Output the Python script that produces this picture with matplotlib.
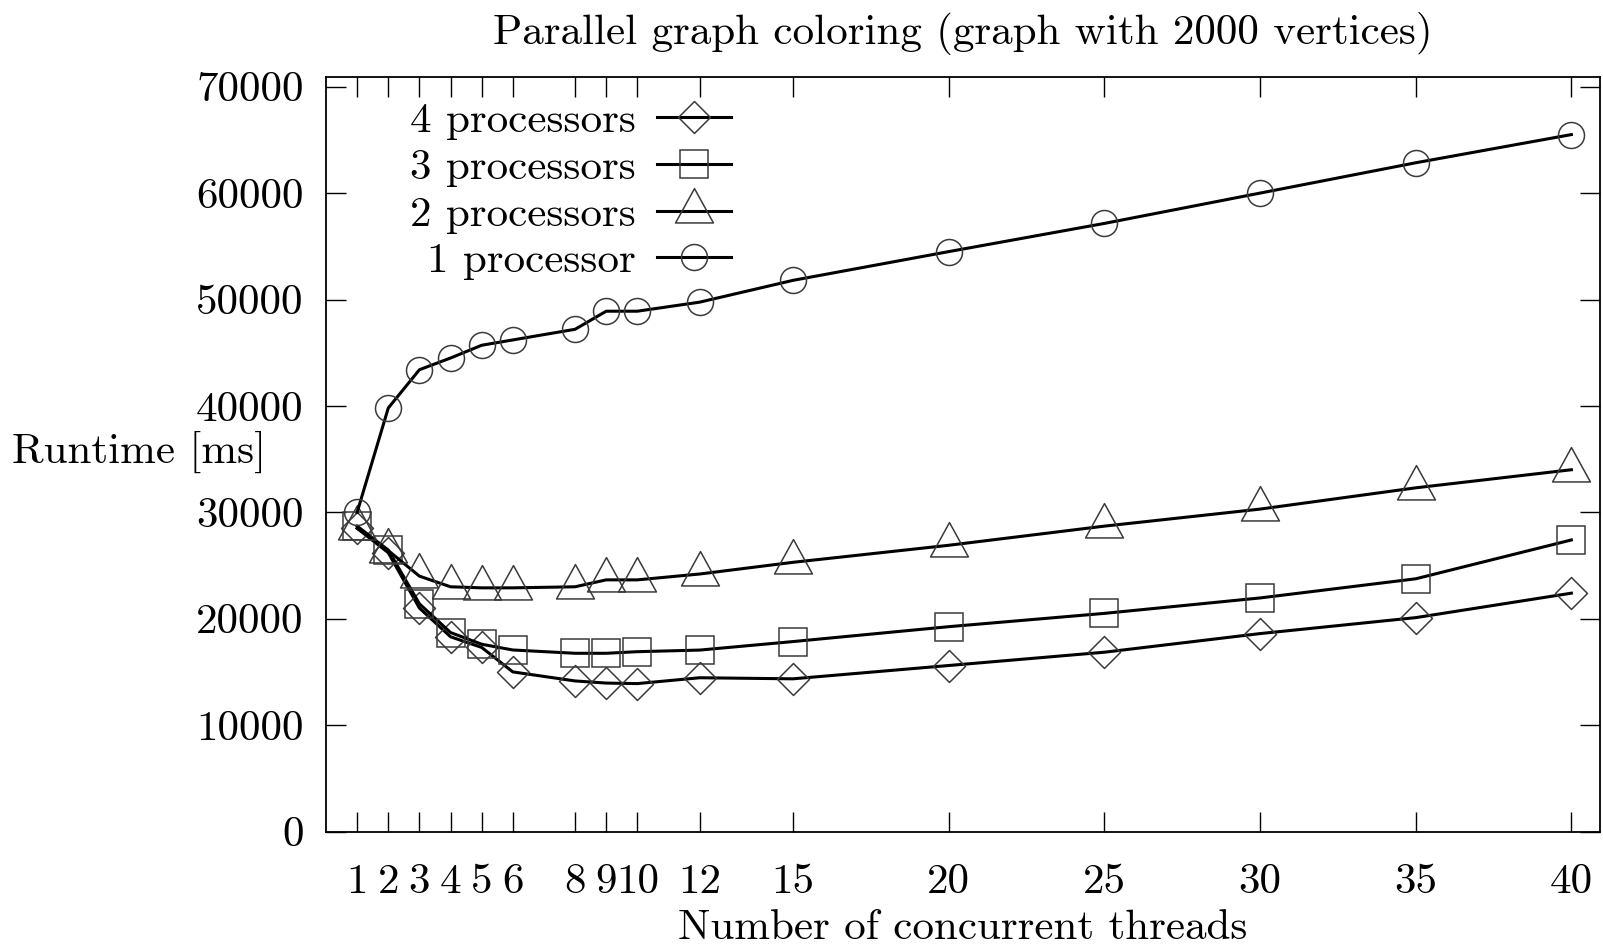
import matplotlib
matplotlib.use("Agg")
import matplotlib.pyplot as plt
from matplotlib.path import Path

# data
threads = [1, 2, 3, 4, 5, 6, 8, 9, 10, 12, 15, 20, 25, 30, 35, 40]
xtick_labels = ["1", "2", "3", "4", "5", "6", "8", "9", "10", "12",
                "15", "20", "25", "30", "35", "40"]
yticks = [0, 10000, 20000, 30000, 40000, 50000, 60000, 70000]

# runtime [ms]
proc4 = [28500, 26200, 21000, 18300, 17300, 15000, 14150, 13950, 13900, 14450,
         14350, 15600, 16850, 18600, 20100, 22400]
proc3 = [28700, 26450, 21400, 18700, 17600, 17060, 16750, 16750, 16900, 17050,
         17850, 19250, 20500, 21950, 23750, 27400]
proc2 = [28500, 26400, 24000, 23000, 22900, 22900, 23000, 23650, 23650, 24200,
         25300, 26900, 28700, 30300, 32300, 34000]
proc1 = [30000, 39800, 43400, 44500, 45700, 46200, 47200, 48900, 48900, 49750,
         51800, 54500, 57150, 60000, 62850, 65500]

labels = ["4 processors", "3 processors", "2 processors", "1 processor"]

plt.rcParams['font.family'] = ['cmr10', 'DejaVu Serif']
plt.rcParams['font.size'] = 31

# gnuplot style point shapes (triangle centred on its centroid)
tri = Path([(0, 23), (-19, -11.5), (19, -11.5), (0, 23)], closed=True)
dia = Path([(-1, 0), (0, -1), (1, 0), (0, 1), (-1, 0)], closed=True)

fig = plt.figure(figsize=(16.03, 9.46), dpi=100)
ax = fig.add_axes([326 / 1603, 1 - 831.5 / 946, 1274 / 1603, (831.5 - 76.7) / 946])

series = [
    (proc4, dia, 23),
    (proc3, 's', 20.2),
    (proc2, tri, 33),
    (proc1, 'o', 18.7),
]
for (vals, mk, ms), lab in zip(series, labels):
    ax.plot(threads, vals, color='black', lw=2.2, marker=mk, ms=ms,
            mfc='none', mec='#3a3a3a', mew=1.1, label=lab)

ax.set_xlim(0, 40.92)
ax.set_ylim(0, 70940)
ax.set_xticks(threads)
ax.set_xticklabels(xtick_labels)
ax.set_yticks(yticks)
ax.set_yticklabels([str(v) for v in yticks])
ax.tick_params(direction='in', length=14.4, width=1.0, top=True, right=True,
               color='black')
ax.tick_params(axis='x', pad=23)
ax.tick_params(axis='y', pad=16)
for s in ax.spines.values():
    s.set_linewidth(1.3)

ax.set_title("Parallel graph coloring (graph with 2000 vertices)",
             fontsize=31, pad=23.5)
ax.set_xlabel("Number of concurrent threads", labelpad=6)
ax.set_ylabel("Runtime [ms]", rotation=0, ha='right', va='center')
ax.yaxis.set_label_coords(-0.047, 0.503)

ax.legend(loc='upper right', bbox_to_anchor=(731 / 1603, 1 - 102 / 946),
          bbox_transform=fig.transFigure, frameon=False, markerfirst=False,
          numpoints=1, handlelength=1.72, handletextpad=0.49,
          labelspacing=0.2, borderpad=0, borderaxespad=0)

fig.savefig("out.png", dpi=100)
